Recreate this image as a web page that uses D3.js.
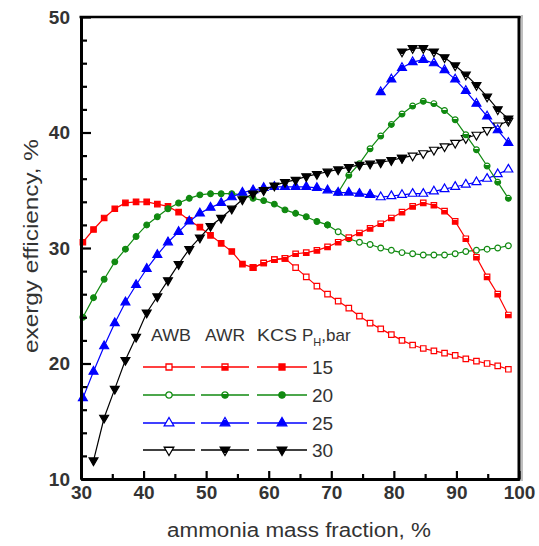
<!DOCTYPE html>
<html><head><meta charset="utf-8">
<script src="https://cdn.jsdelivr.net/npm/d3@7/dist/d3.min.js"></script>
<style>
body{margin:0;background:#fff}
text{font-family:"Liberation Sans",Arial,sans-serif;fill:#333}
</style>
</head><body>
<svg id="chart" width="539" height="546"></svg>
<script>
// ---- data ----
const ammonia = [30.3,32.0,33.7,35.4,37.1,38.8,40.5,42.2,43.9,45.6,47.3,49.0,50.7,52.4,54.1,55.8,57.5,59.2,60.9,62.6,
                 64.3,66.0,67.7,69.4,71.1,72.8,74.5,76.2,77.9,79.6,81.3,83.0,84.7,86.4,88.1,89.8,91.5,93.2,94.9,96.6,98.3];
const cycles = ["AWB","AWR","KCS"];
const pressures = ["15","20","25","30"];
const colors = ["#ff0000","#118a11","#0000ff","#000000"];
const xTicks = [30,40,50,60,70,80,90,100];
const yTicks = [10,20,30,40,50];

// each series: first index into ammonia + efficiency values
const p15_KCS_start = 0;
const p15_KCS = [30.5,31.6,32.6,33.4,33.9,34.0,34.0,33.8,33.6,33.1,32.4,31.8,31.1,30.4,29.7,28.6,28.3];
const p15_AWR_start = 16;
const p15_AWR = [28.3,28.7,29.0,29.1,29.5,29.6,29.8,30.1,30.5,30.9,31.3,31.7,32.1,32.6,33.1,33.6,33.9,33.7,33.2,32.3,30.8,29.2,27.5,26.0,24.2];
const p15_AWB_start = 16;
const p15_AWB = [28.3,28.7,29.0,29.1,28.3,27.5,26.7,26.0,25.4,24.8,24.1,23.5,23.0,22.5,22.0,21.6,21.3,21.1,20.9,20.7,20.4,20.2,20.0,19.8,19.5];

const p20_KCS_start = 0;
const p20_KCS = [24.0,25.7,27.3,28.8,29.9,31.0,32.0,32.7,33.4,33.9,34.3,34.6,34.7,34.7,34.7,34.6,34.3,34.1,33.8,33.3,33.0,32.7,32.3,32.0];
const p20_AWR_start = 24;
const p20_AWR = [34.8,36.3,37.3,38.6,39.7,40.7,41.6,42.3,42.7,42.5,41.9,41.1,39.8,38.5,37.1,35.7,34.3];
const p20_AWB_start = 23;
const p20_AWB = [32.0,31.4,30.8,30.5,30.3,30.0,29.8,29.6,29.5,29.4,29.4,29.4,29.5,29.7,29.8,29.9,30.0,30.2];

const p25_KCS_start = 0;
const p25_KCS = [17.0,19.3,21.5,23.5,25.3,26.8,28.2,29.4,30.5,31.4,32.3,33.0,33.5,33.9,34.4,34.8,35.0,35.2,35.3,35.3,35.3,35.3,35.2,35.0,34.8,34.8,34.7,34.6];
const p25_AWR_start = 28;
const p25_AWR = [43.5,44.6,45.6,46.1,46.3,46.0,45.4,44.6,43.6,42.5,41.4,40.2,39.1];
const p25_AWB_start = 27;
const p25_AWB = [34.6,34.4,34.5,34.6,34.7,34.7,34.9,35.1,35.3,35.5,35.7,36.0,36.4,36.8];

const p30_KCS_start = 1;
const p30_KCS = [11.6,15.3,17.8,20.3,22.3,24.4,25.8,27.2,28.6,29.9,30.9,31.9,32.6,33.4,34.2,34.7,35.0,35.4,35.7,35.9,36.2,36.4,36.6,36.8,37.0,37.2,37.3,37.4,37.6,37.8];
const p30_AWR_start = 30;
const p30_AWR = [47.0,47.3,47.3,47.0,46.5,45.8,45.0,44.1,43.1,42.0,41.2];
const p30_AWB_start = 30;
const p30_AWB = [37.8,38.0,38.2,38.5,38.8,39.1,39.5,39.8,40.2,40.6,41.0];

const seriesTable = [
  {p:0,c:"AWB",start:p15_AWB_start,vals:p15_AWB},{p:0,c:"AWR",start:p15_AWR_start,vals:p15_AWR},{p:0,c:"KCS",start:p15_KCS_start,vals:p15_KCS},
  {p:1,c:"AWB",start:p20_AWB_start,vals:p20_AWB},{p:1,c:"AWR",start:p20_AWR_start,vals:p20_AWR},{p:1,c:"KCS",start:p20_KCS_start,vals:p20_KCS},
  {p:2,c:"AWB",start:p25_AWB_start,vals:p25_AWB},{p:2,c:"AWR",start:p25_AWR_start,vals:p25_AWR},{p:2,c:"KCS",start:p25_KCS_start,vals:p25_KCS},
  {p:3,c:"AWB",start:p30_AWB_start,vals:p30_AWB},{p:3,c:"AWR",start:p30_AWR_start,vals:p30_AWR},{p:3,c:"KCS",start:p30_KCS_start,vals:p30_KCS}
];

// ---- drawing ----
const svg = d3.select("#chart");
const x = d3.scaleLinear().domain([30,100]).range([81,519]);
const y = d3.scaleLinear().domain([10,50]).range([479,17]);

const symbols = [d3.symbolSquare, d3.symbolCircle, d3.symbolTriangle, d3.symbolTriangle];
const symSize = [30, 26, 34, 34];
const symRot = [0,0,0,180];

const defs = svg.append("defs");
colors.forEach((col,i)=>{
  const g = defs.append("linearGradient").attr("id","half"+i).attr("x1",0).attr("y1",0).attr("x2",0).attr("y2",1);
  g.append("stop").attr("offset","0.32").attr("stop-color","#fff");
  g.append("stop").attr("offset","0.32").attr("stop-color",col);
});
function fillFor(p,c){ return c==="AWB" ? "#fff" : c==="AWR" ? "url(#half"+p+")" : colors[p]; }

// frame shadow
svg.append("line").attr("x1",522).attr("x2",522).attr("y1",15).attr("y2",481).attr("stroke","#aaa").attr("stroke-width",1.5);

// series
const plot = svg.append("g");
const order = ["AWB","AWR","KCS"];
order.forEach(cyc=>{
  seriesTable.filter(s=>s.c===cyc).forEach(s=>{
    const pts = s.vals.map((v,i)=>[ammonia[s.start+i], v]);
    plot.append("path").datum(pts)
      .attr("fill","none").attr("stroke",colors[s.p]).attr("stroke-width",1.2)
      .attr("d", d3.line().x(d=>x(d[0])).y(d=>y(d[1])));
    plot.selectAll(null).data(pts).enter().append("path")
      .attr("d", d3.symbol().type(symbols[s.p]).size(symSize[s.p]))
      .attr("transform", d=>`translate(${x(d[0])},${y(d[1])}) rotate(${symRot[s.p]})`)
      .attr("fill", fillFor(s.p,s.c)).attr("stroke",colors[s.p]).attr("stroke-width",1.2);
  });
});

// axes
const fontTick = 'bold 19px "Liberation Sans", Arial, sans-serif';
const xAxis = svg.append("g").attr("transform","translate(0,479)")
  .call(d3.axisBottom(x).tickValues(xTicks).tickSizeInner(-8).tickSizeOuter(0).tickPadding(7).tickFormat(d3.format("d")));
const xMinor = svg.append("g").attr("transform","translate(0,479)")
  .call(d3.axisBottom(x).tickValues([35,45,55,65,75,85,95]).tickSizeInner(-5).tickSizeOuter(0).tickFormat(""));
const yAxis = svg.append("g").attr("transform","translate(81,0)")
  .call(d3.axisLeft(y).tickValues(yTicks).tickSizeInner(-10).tickSizeOuter(0).tickPadding(11).tickFormat(d3.format("d")));
const yMinor = svg.append("g").attr("transform","translate(81,0)")
  .call(d3.axisLeft(y).tickValues([12,14,16,18,22,24,26,28,32,34,36,38,42,44,46,48]).tickSizeInner(-6).tickSizeOuter(0).tickFormat(""));
[xAxis,xMinor,yAxis,yMinor].forEach(a=>{
  a.select(".domain").attr("stroke","#000").attr("stroke-width",3);
  a.selectAll(".tick line").attr("stroke","#000").attr("stroke-width",2.2);
  a.selectAll("text").attr("fill","#333").style("font",fontTick);
});
// top & right frame
svg.append("line").attr("x1",79.5).attr("x2",520.5).attr("y1",17).attr("y2",17).attr("stroke","#000").attr("stroke-width",2.5);
svg.append("line").attr("x1",519).attr("x2",519).attr("y1",16).attr("y2",480.5).attr("stroke","#000").attr("stroke-width",3);

// axis titles
svg.append("text").attr("x",299).attr("y",537).attr("text-anchor","middle")
  .attr("textLength",264).attr("lengthAdjust","spacingAndGlyphs")
  .style("font-size","20px").text("ammonia mass fraction, %");
svg.append("text").attr("transform","translate(38,246) rotate(-90)").attr("text-anchor","middle")
  .attr("textLength",214).attr("lengthAdjust","spacingAndGlyphs")
  .style("font-size","20px").text("exergy efficiency, %");

// legend
const leg = svg.append("g");
const colX = [[143,195],[201,249],[257,307]];
const headX = [151,205,257];
cycles.forEach((c,j)=>{
  leg.append("text").attr("x",headX[j]).attr("y",341).style("font-size","17px")
    .attr("textLength",40).attr("lengthAdjust","spacingAndGlyphs").text(c);
});
const ph = leg.append("text").attr("x",302).attr("y",341).style("font-size","17px");
ph.append("tspan").text("P");
ph.append("tspan").attr("dy",5).style("font-size","11px").text("H");
ph.append("tspan").attr("dy",-5).text(",bar");
const rowY = [367,395,423,450];
pressures.forEach((p,i)=>{
  cycles.forEach((c,j)=>{
    leg.append("line").attr("x1",colX[j][0]).attr("x2",colX[j][1]).attr("y1",rowY[i]).attr("y2",rowY[i])
      .attr("stroke",colors[i]).attr("stroke-width",1.6);
    leg.append("path").attr("d", d3.symbol().type(symbols[i]).size(symSize[i]+6))
      .attr("transform",`translate(${(colX[j][0]+colX[j][1])/2},${rowY[i]}) rotate(${symRot[i]})`)
      .attr("fill", fillFor(i,c)).attr("stroke",colors[i]).attr("stroke-width",1.3);
  });
  leg.append("text").attr("x",312).attr("y",rowY[i]+7).style("font-size","19px").text(p);
});
</script>
</body></html>
